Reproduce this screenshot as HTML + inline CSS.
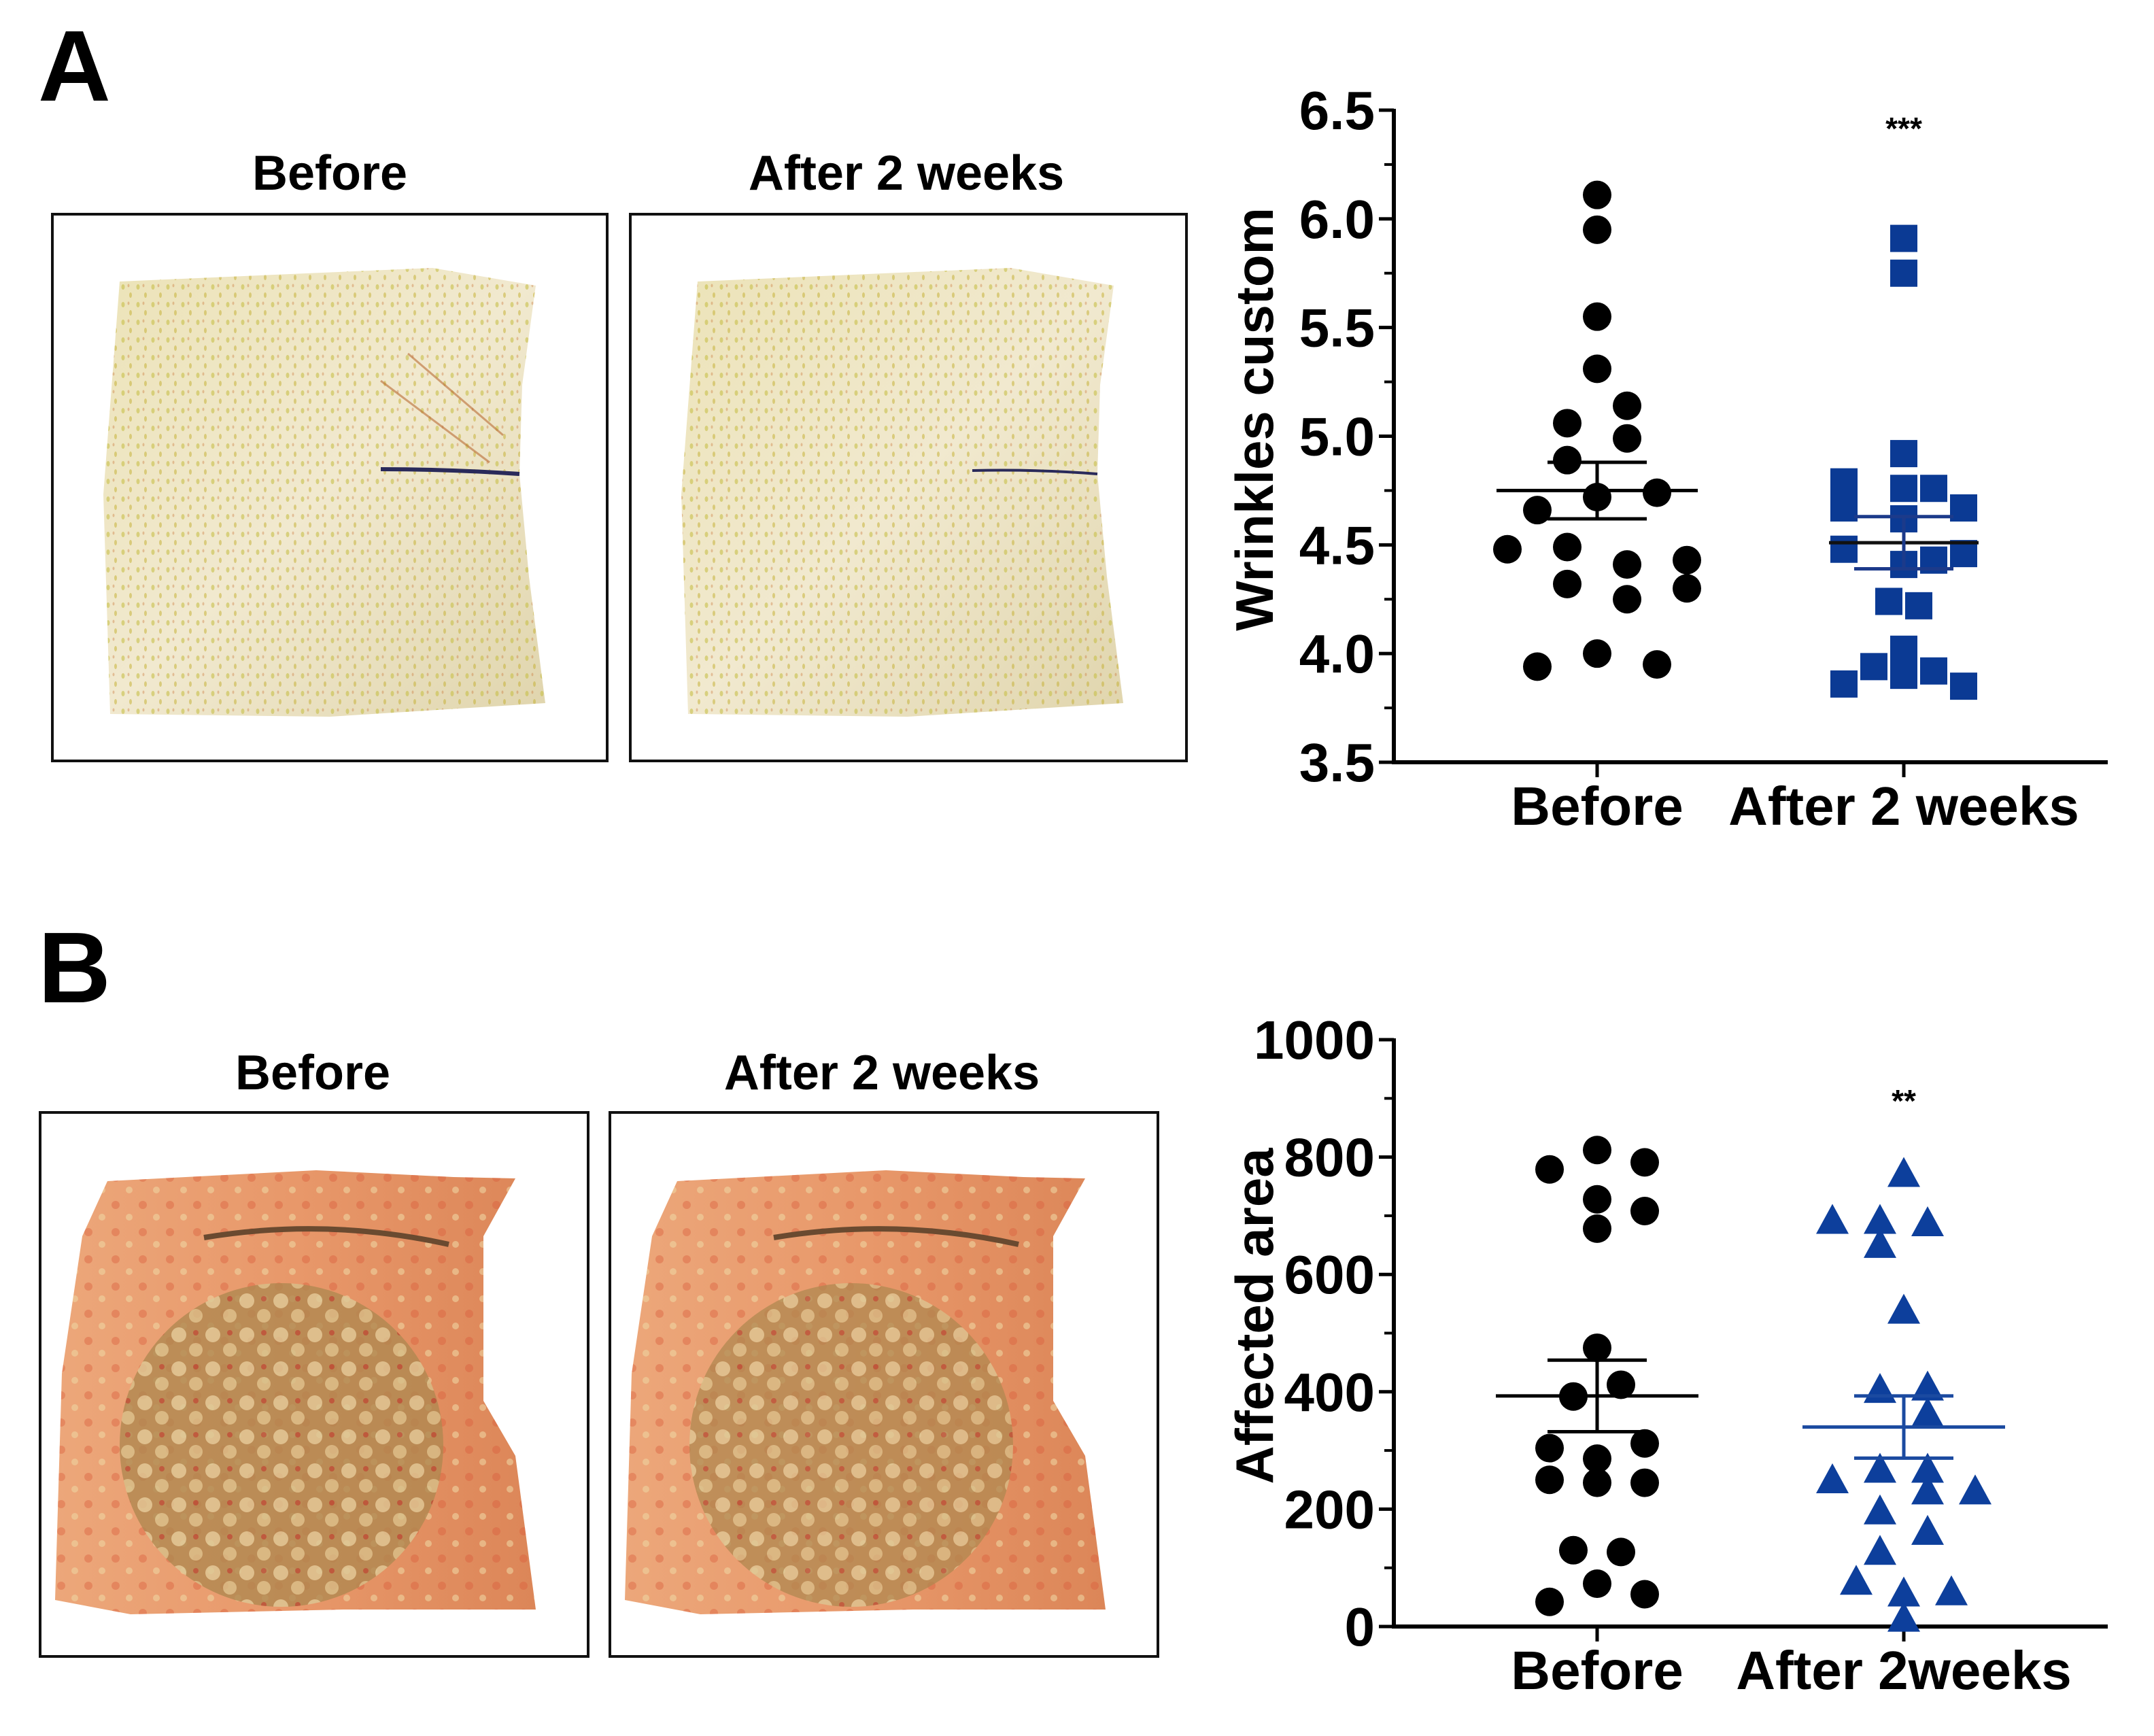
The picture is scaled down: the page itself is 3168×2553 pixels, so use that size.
<!DOCTYPE html>
<html><head><meta charset="utf-8">
<style>
html,body{margin:0;padding:0;background:#fff;}
svg{display:block;}
text{font-family:"Liberation Sans",Arial,sans-serif;font-weight:bold;}
</style></head>
<body>
<svg id="fig" width="3168" height="2553" viewBox="0 0 3168 2553" xmlns="http://www.w3.org/2000/svg">
<defs>
<linearGradient id="skinA" x1="0" y1="0" x2="1" y2="1">
<stop offset="0" stop-color="#ece3b8"/><stop offset="0.5" stop-color="#f1e9cf"/><stop offset="1" stop-color="#e0d5ad"/>
</linearGradient>
<pattern id="dots" width="22" height="26" patternUnits="userSpaceOnUse">
<rect width="22" height="26" fill="none"/>
<ellipse cx="5" cy="6" rx="2.5" ry="4" fill="#c8c04a" opacity="0.6"/>
<ellipse cx="16" cy="18" rx="2" ry="4" fill="#c7b23a" opacity="0.55"/>
<ellipse cx="13" cy="4" rx="1.5" ry="2.5" fill="#c46a2a" opacity="0.35"/>
</pattern>
<linearGradient id="skinB" x1="0" y1="0" x2="1" y2="0">
<stop offset="0" stop-color="#eca77a"/><stop offset="0.5" stop-color="#e8986a"/><stop offset="1" stop-color="#dc8658"/>
</linearGradient>
<pattern id="spots" width="40" height="40" patternUnits="userSpaceOnUse">
<circle cx="10" cy="12" r="6" fill="#d95a3a" opacity="0.4"/>
<circle cx="30" cy="30" r="5" fill="#efd4a0" opacity="0.6"/>
</pattern>
<pattern id="mottle" width="50" height="50" patternUnits="userSpaceOnUse">
<rect width="50" height="50" fill="#b08850"/>
<circle cx="13" cy="13" r="11" fill="#dcc895"/>
<circle cx="38" cy="35" r="10" fill="#d6bf88"/>
<circle cx="38" cy="10" r="4" fill="#b54a32"/>
</pattern>
</defs>

<!-- Panel A -->
<text x="56" y="148" font-size="148">A</text>
<text x="485" y="279" font-size="72" text-anchor="middle">Before</text>
<text x="1333" y="279" font-size="72" text-anchor="middle">After 2 weeks</text>
<g>
<rect x="77" y="315" width="816" height="804" fill="#fff" stroke="#111" stroke-width="4"/>
<polygon points="176,414 404,404 636,394 788,420 768,566 764,697 778,848 802,1034 485,1054 162,1050 152,727" fill="url(#skinA)"/>
<polygon points="176,414 404,404 636,394 788,420 768,566 764,697 778,848 802,1034 485,1054 162,1050 152,727" fill="url(#dots)"/>
<path d="M560,690 Q660,690 764,697" stroke="#2a2a5a" stroke-width="6" fill="none"/>
<path d="M560,560 L720,680 M600,520 L740,640" stroke="#b96a34" stroke-width="3" fill="none" opacity="0.6"/>
</g>
<g>
<rect x="927" y="315" width="818" height="804" fill="#fff" stroke="#111" stroke-width="4"/>
<polygon points="1026,414 1254,404 1486,394 1638,420 1618,566 1614,697 1628,848 1652,1034 1335,1054 1012,1050 1002,727" fill="url(#skinA)"/>
<polygon points="1026,414 1254,404 1486,394 1638,420 1618,566 1614,697 1628,848 1652,1034 1335,1054 1012,1050 1002,727" fill="url(#dots)"/>
<path d="M1430,692 Q1530,690 1614,697" stroke="#2a2a5a" stroke-width="4" fill="none"/>
</g>

<!-- Panel B -->
<text x="56" y="1474" font-size="148">B</text>
<text x="460" y="1602" font-size="72" text-anchor="middle">Before</text>
<text x="1297" y="1602" font-size="72" text-anchor="middle">After 2 weeks</text>
<g>
<rect x="59" y="1636" width="806" height="800" fill="#fff" stroke="#111" stroke-width="4"/>
<polygon points="158,1737 465,1721 667,1731 758,1733 711,1818 711,2060 758,2141 788,2367 505,2367 192,2374 81,2353 91,2020 121,1818" fill="url(#skinB)"/>
<polygon points="158,1737 465,1721 667,1731 758,1733 711,1818 711,2060 758,2141 788,2367 505,2367 192,2374 81,2353 91,2020 121,1818" fill="url(#spots)"/>
<path d="M300,1820 Q480,1790 660,1830" stroke="#6a4a30" stroke-width="8" fill="none"/>
<circle cx="414" cy="2125" r="238" fill="url(#mottle)" opacity="0.8"/>
</g>
<g>
<rect x="897" y="1636" width="806" height="800" fill="#fff" stroke="#111" stroke-width="4"/>
<polygon points="996,1737 1303,1721 1505,1731 1596,1733 1549,1818 1549,2060 1596,2141 1626,2367 1343,2367 1030,2374 919,2353 929,2020 959,1818" fill="url(#skinB)"/>
<polygon points="996,1737 1303,1721 1505,1731 1596,1733 1549,1818 1549,2060 1596,2141 1626,2367 1343,2367 1030,2374 919,2353 929,2020 959,1818" fill="url(#spots)"/>
<path d="M1138,1820 Q1318,1790 1498,1830" stroke="#6a4a30" stroke-width="8" fill="none"/>
<circle cx="1252" cy="2125" r="238" fill="url(#mottle)" opacity="0.75"/>
</g>

<g id="chartA"></g>
<g id="chartB"></g>
</svg>
<script>
// ---- Chart A data ----
const catsA = ["Before", "After 2 weeks"];
const ticksA = [3.5, 4.0, 4.5, 5.0, 5.5, 6.0, 6.5];
const beforeA = [6.11,5.95,5.55,5.31,5.14,5.06,4.99,4.89,4.72,4.74,4.66,4.48,4.49,4.41,4.43,4.32,4.30,4.25,4.00,3.94,3.95];
const beforeAJit = [0,0,0,0,1,-1,1,-1,0,2,-2,-3,-1,1,3,-1,3,1,0,-2,2];
const afterA = [5.91,5.75,4.92,4.79,4.76,4.76,4.67,4.67,4.62,4.48,4.46,4.41,4.43,4.24,4.22,4.02,3.94,3.90,3.92,3.86,3.85];
const afterAJit = [0,0,0,-2,0,1,-2,2,0,-2,2,0,1,-0.5,0.5,0,-1,0,1,-2,2];
const meanA = [4.75, 4.51];
const semA = [0.13, 0.12];
// ---- Chart B data ----
const catsB = ["Before", "After 2weeks"];
const ticksB = [0, 200, 400, 600, 800, 1000];
const beforeB = [812,779,791,728,708,678,475,412,392,304,312,286,250,245,245,130,127,73,42,55];
const beforeBJit = [0,-1,1,0,1,0,0,0.5,-0.5,-1,1,0,-1,0,1,-0.5,0.5,0,-1,1];
const afterB = [770,690,690,686,649,537,402,406,361,248,266,266,229,229,195,160,126,75,55,57,12];
const afterBJit = [0,-1.5,-0.5,0.5,-0.5,0,-0.5,0.5,0.5,-1.5,-0.5,0.5,0.5,1.5,-0.5,0.5,-0.5,-1,0,1,0];
const meanB = [393, 340];
const semB = [61, 53];

const NS = "http://www.w3.org/2000/svg";
function mk(parent, tag, attrs){const e=document.createElementNS(NS,tag);for(const k in attrs)e.setAttribute(k,attrs[k]);parent.appendChild(e);return e;}

function drawChart(g, o){
  const yS = v => o.bottom - (v - o.min)/(o.max - o.min)*(o.bottom - o.top);
  const xS = i => o.cx[i];
  const ya = mk(g,'line',{x1:o.x0,y1:o.top-2,x2:o.x0,y2:o.bottom+3,stroke:'#000','stroke-width':6});
  
  
  const xa = mk(g,'line',{x1:o.x0-3,y1:o.bottom,x2:o.x1,y2:o.bottom,stroke:'#000','stroke-width':6});
  
  
  o.ticks.forEach((t,i)=>{
    const y=yS(t);
    mk(g,'line',{x1:o.x0-22,y1:y,x2:o.x0,y2:y,stroke:'#000','stroke-width':5});
    const lb=mk(g,'text',{x:o.x0-28,y:y+28,'font-size':80,'text-anchor':'end'});
    lb.textContent=o.fmt(t);
    
    
    if(i<o.ticks.length-1){
      const ym=yS((t+o.ticks[i+1])/2);
      mk(g,'line',{x1:o.x0-14,y1:ym,x2:o.x0,y2:ym,stroke:'#000','stroke-width':4});
    }
  });
  o.cats.forEach((c,i)=>{
    mk(g,'line',{x1:xS(i),y1:o.bottom,x2:xS(i),y2:o.bottom+22,stroke:'#000','stroke-width':5});
    const t=mk(g,'text',{x:xS(i),y:o.bottom+92,'font-size':80,'text-anchor':'middle'});
    t.textContent=c;
    
    
  });
  const yt=mk(g,'text',{x:0,y:0,'font-size':78,'text-anchor':'middle',transform:`translate(${o.x0-178},${(o.top+o.bottom)/2+o.titleDy}) rotate(-90)`});
  yt.textContent=o.ytitle;
  
  
  o.series.forEach((s,si)=>{
    s.vals.forEach((v,k)=>{
      const x=xS(si)+s.jit[k]*o.step, y=yS(v);
      let m;
      if(s.shape==='circle') m=mk(g,'circle',{cx:x,cy:y,r:21,fill:s.color});
      else if(s.shape==='square') m=mk(g,'rect',{x:x-20,y:y-20,width:40,height:40,fill:s.color});
      else m=mk(g,'polygon',{points:`${x},${y-26} ${x+24},${y+18} ${x-24},${y+18}`,fill:s.color});
      
      
    });
    const mx=xS(si), my=yS(o.mean[si]);
    const ml=mk(g,'line',{x1:mx-o.meanW[si],y1:my,x2:mx+o.meanW[si],y2:my,stroke:s.lineColor,'stroke-width':5});
    
    
    const hi=yS(o.mean[si]+o.sem[si]), lo=yS(o.mean[si]-o.sem[si]);
    const eb=mk(g,'path',{d:`M${mx},${hi}V${lo}M${mx-73},${hi}H${mx+73}M${mx-73},${lo}H${mx+73}`,stroke:s.errColor,'stroke-width':5,fill:'none'});
    
    
  });
  const st=mk(g,'text',{x:xS(1),y:o.starY,'font-size':46,'text-anchor':'middle'});
  st.textContent=o.stars;
  
  
}

drawChart(document.getElementById('chartA'),{
  x0:2050,x1:3100,top:162,bottom:1121,min:3.5,max:6.5,cx:[2349,2800],step:44,
  ticks:ticksA,fmt:t=>t.toFixed(1),cats:catsA,ytitle:'Wrinkles custom',titleDy:-25,
  mean:meanA,sem:semA,meanW:[148,110],stars:'***',starY:205,
  series:[{vals:beforeA,jit:beforeAJit,shape:'circle',color:'#000',lineColor:'#000',errColor:'#000'},
          {vals:afterA,jit:afterAJit,shape:'square',color:'#0b3a94',lineColor:'#111',errColor:'#1c3a8a'}]
});
drawChart(document.getElementById('chartB'),{
  x0:2050,x1:3100,top:1529,bottom:2392,min:0,max:1000,cx:[2349,2800],step:70,
  ticks:ticksB,fmt:t=>String(t),cats:catsB,ytitle:'Affected area',titleDy:-25,
  mean:meanB,sem:semB,meanW:[149,149],stars:'**',starY:1635,
  series:[{vals:beforeB,jit:beforeBJit,shape:'circle',color:'#000',lineColor:'#000',errColor:'#000'},
          {vals:afterB,jit:afterBJit,shape:'triangle',color:'#0d3f9c',lineColor:'#1b4aa0',errColor:'#1b4aa0'}]
});
</script>
</body></html>
